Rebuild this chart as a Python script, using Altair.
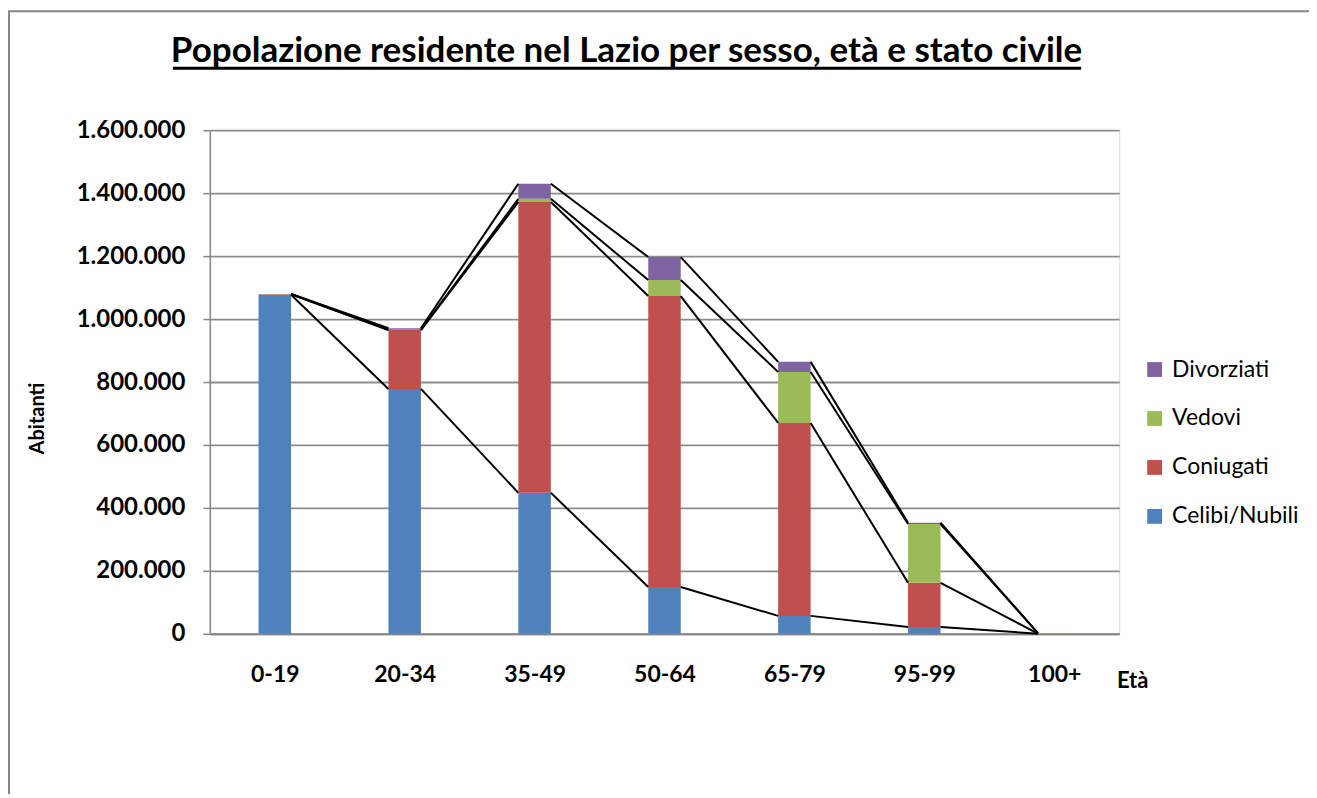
import altair as alt
import pandas as pd

categories = ["0-19", "20-34", "35-49", "50-64", "65-79", "95-99", "100+"]
series = ["Celibi/Nubili", "Coniugati", "Vedovi", "Divorziati"]
celibi = [1077000, 778000, 448000, 149000, 57000, 22000, 500]
coniugati = [2000, 187000, 924000, 924000, 613000, 140000, 300]
vedovi = [500, 1000, 10000, 51000, 162000, 187000, 1200]
divorziati = [500, 5000, 48000, 73000, 32000, 4000, 50]
colors = ["#4F81BD", "#C0504D", "#9BBB59", "#8064A2"]
y_ticks = [0, 200000, 400000, 600000, 800000, 1000000, 1200000, 1400000, 1600000]
title_text = "Popolazione residente nel Lazio per sesso, età e stato civile"

values = [celibi, coniugati, vedovi, divorziati]
HALF = 0.125

# stacked bar segments
rows = []
tops = {}
for i, cat in enumerate(categories):
    base = 0
    for s, vals in zip(series, values):
        top = base + vals[i]
        rows.append({"cat": cat, "idx": i, "serie": s, "start": base, "end": top,
                     "xa": i - HALF, "xb": i + HALF})
        tops[(s, i)] = top
        base = top
bars_df = pd.DataFrame(rows)

# Excel-style series lines
lrows = []
for s in series:
    for i in range(len(categories) - 1):
        lrows.append({"serie": s, "xa": i + HALF, "xb": i + 1 - HALF,
                      "ya": tops[(s, i)], "yb": tops[(s, i + 1)]})
lines_df = pd.DataFrame(lrows)

FONT = "Lato"
label_expr = "[" + ",".join("'%s'" % c for c in categories) + "][datum.value]"

xscale = alt.Scale(domain=[-0.5, len(categories) - 0.5], nice=False, zero=False)
yscale = alt.Scale(domain=[0, 1600000], nice=False)

bars = alt.Chart(bars_df).mark_bar().encode(
    x=alt.X("xa:Q", scale=xscale, axis=alt.Axis(
        values=list(range(len(categories))), labelExpr=label_expr, grid=False,
        ticks=False, domainColor="#868686", domainWidth=2, labelPadding=30,
        labelFont=FONT, labelFontSize=23, labelFontWeight="bold", labelColor="black",
        title="Età", titleFont=FONT, titleFontSize=22, titleFontWeight="bold",
        titleColor="black", titleX=923, titleY=47, titleBaseline="middle",
        titleAlign="center")),
    x2="xb:Q",
    y=alt.Y("start:Q", scale=yscale, axis=alt.Axis(
        values=y_ticks,
        labelExpr="replace(format(datum.value, ',d'), regexp(',', 'g'), '.')",
        grid=True, gridColor="#8c8c8c", gridWidth=1.8, domainColor="#868686",
        domainWidth=1.5, tickColor="#868686", tickSize=7, tickWidth=1.5,
        labelPadding=18, labelFont=FONT, labelFontSize=24, labelFontWeight="bold",
        labelColor="black", title="Abitanti", titleFont=FONT, titleFontSize=20,
        titleFontWeight="bold", titleColor="black", titleX=-172, titleY=288,
        titleAngle=-90, titleBaseline="middle", titleAlign="center")),
    y2="end:Q",
    color=alt.Color("serie:N", scale=alt.Scale(domain=series, range=colors),
                    legend=alt.Legend(
                        title=None, orient="none", legendX=934, legendY=228,
                        symbolType="square", symbolSize=220, symbolStrokeWidth=0,
                        labelFont=FONT, labelFontSize=23, labelColor="black",
                        rowPadding=25, labelOffset=6,
                        values=["Divorziati", "Vedovi", "Coniugati", "Celibi/Nubili"])),
    order=alt.Order("end:Q"),
)

lines = alt.Chart(lines_df).mark_rule(color="black", strokeWidth=2).encode(
    x=alt.X("xa:Q", scale=xscale),
    x2="xb:Q",
    y=alt.Y("ya:Q", scale=yscale),
    y2="yb:Q",
)

one = pd.DataFrame({"t": [title_text]})
border = alt.Chart(one).mark_rect(fillOpacity=0, stroke="#868686", strokeWidth=2).encode(
    x=alt.value(-201), x2=alt.value(1101), y=alt.value(-119), y2=alt.value(760))
title = alt.Chart(one).mark_text(
    font=FONT, fontSize=35, fontWeight="bold", color="black",
    align="center", baseline="alphabetic").encode(
    x=alt.value(417), y=alt.value(-68), text="t:N")
underline = alt.Chart(one).mark_rule(color="black", strokeWidth=3).encode(
    x=alt.value(-37), x2=alt.value(872), y=alt.value(-62))

chart = alt.layer(border, bars, lines, title, underline).properties(
    width=910, height=504,
    autosize=alt.AutoSizeParams(type="none"),
    padding={"left": 202, "top": 122, "right": 190, "bottom": 160},
).configure_view(stroke=None).configure(background="white")

chart.save("out.html", embed_options={"renderer": "svg", "actions": False})
